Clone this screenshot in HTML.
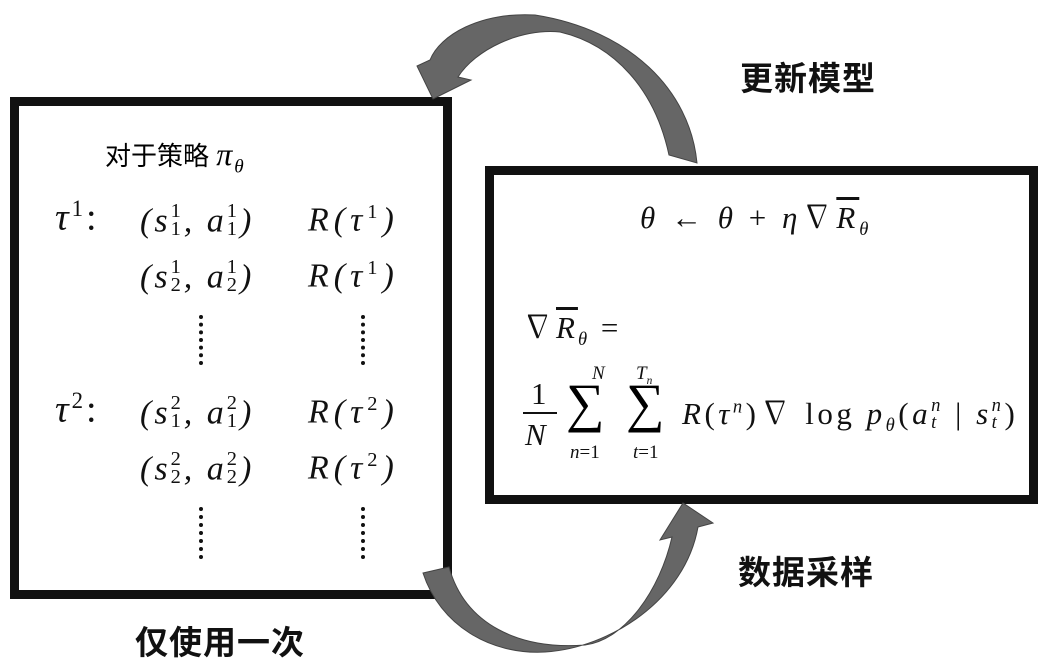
<!DOCTYPE html>
<html><head><meta charset="utf-8"><style>
body{margin:0;width:1042px;height:659px;background:#fff;position:relative;overflow:hidden;font-family:"Liberation Serif","Noto Serif CJK SC",serif;}
.a{position:absolute;white-space:nowrap;line-height:1;}
.m{font-style:italic;font-size:34px;color:#111;letter-spacing:3px;}
.cn{font-family:"Liberation Sans","Noto Sans CJK SC",sans-serif;font-weight:bold;font-size:33px;color:#111;letter-spacing:1px;}
.box{position:absolute;border:9px solid #111;box-sizing:border-box;}
sub,sup{font-size:60%;}
.dots{position:absolute;width:4px;border-left:4px dotted #111;}
.r{font-style:normal;}
.st{font-size:60%;display:inline-block;line-height:0.9;vertical-align:-4px;font-style:normal;}
</style></head><body>
<div class="box" style="left:10px;top:97px;width:442px;height:502px;"></div>
<div class="box" style="left:485px;top:166px;width:553px;height:338px;"></div>
<svg width="1042" height="659" style="position:absolute;left:0;top:0">
<path d="M697,163 C690,90 630,30 535,15 C480,12 440,35 430,60 L417,66 L433,99 L471,80 L458,77 C475,50 520,28 560,32 C615,45 655,90 669,155 Z" fill="#666" stroke="#444" stroke-width="1"/>
<path d="M423,573 C440,625 490,655 545,652 C610,648 685,600 698,527 L713,523 L683,503 L660,540 L672,537 C660,590 625,640 585,645 C520,650 465,625 449,567 Z" fill="#666" stroke="#444" stroke-width="1"/>
</svg>
<div class="a cn" style="left:740px;top:62px;">更新模型</div>
<div class="a cn" style="left:738px;top:556px;">数据采样</div>
<div class="a cn" style="left:135px;top:626px;">仅使用一次</div>
<div class="a" style="left:105px;top:138px;font-size:26px;font-family:'Liberation Sans','Noto Sans CJK SC',sans-serif;">对于策略 <i style="font-family:'Liberation Serif',serif;font-size:32px;letter-spacing:2px">π<sub>θ</sub></i></div>
<div class="a m" style="left:55px;top:198px;font-size:38px">τ<sup class="r">1</sup><span class="r">:</span></div>
<div class="a m" style="left:140px;top:202px">(s<span class="st">1<br>1</span>, a<span class="st">1<br>1</span>)</div>
<div class="a m" style="left:308px;top:202px;letter-spacing:5px">R(τ<sup class="r">1</sup>)</div>
<div class="a m" style="left:140px;top:258px">(s<span class="st">1<br>2</span>, a<span class="st">1<br>2</span>)</div>
<div class="a m" style="left:308px;top:258px;letter-spacing:5px">R(τ<sup class="r">1</sup>)</div>
<div class="dots" style="left:199px;top:315px;height:50px"></div>
<div class="dots" style="left:361px;top:315px;height:50px"></div>
<div class="a m" style="left:55px;top:390px;font-size:38px">τ<sup class="r">2</sup><span class="r">:</span></div>
<div class="a m" style="left:140px;top:394px">(s<span class="st">2<br>1</span>, a<span class="st">2<br>1</span>)</div>
<div class="a m" style="left:308px;top:394px;letter-spacing:5px">R(τ<sup class="r">2</sup>)</div>
<div class="a m" style="left:140px;top:450px">(s<span class="st">2<br>2</span>, a<span class="st">2<br>2</span>)</div>
<div class="a m" style="left:308px;top:450px;letter-spacing:5px">R(τ<sup class="r">2</sup>)</div>
<div class="dots" style="left:199px;top:507px;height:52px"></div>
<div class="dots" style="left:361px;top:507px;height:52px"></div>

<div class="a m" style="left:640px;top:202px;font-size:31px;letter-spacing:4px">θ <span class="r">←</span> θ <span class="r">+</span> η<span class="r">∇</span><span style="text-decoration:overline">R</span><sub>θ</sub></div>
<div class="a m" style="left:522px;top:312px;font-size:31px;letter-spacing:3px"><span class="r">∇</span><span style="text-decoration:overline">R</span><sub>θ</sub> <span class="r">=</span></div>
<div class="a m r" style="left:531px;top:378px;font-size:31px;font-style:normal">1</div>
<div style="position:absolute;left:523px;top:412px;width:34px;height:2px;background:#111"></div>
<div class="a m" style="left:525px;top:419px;font-size:31px">N</div>
<div class="a m" style="left:592px;top:364px;font-size:19px">N</div>
<div class="a r" style="left:566px;top:376px;font-size:54px">∑</div>
<div class="a m" style="left:570px;top:443px;font-size:19px;letter-spacing:0">n<span class="r">=1</span></div>
<div class="a m" style="left:636px;top:364px;font-size:19px;letter-spacing:0">T<sub>n</sub></div>
<div class="a r" style="left:626px;top:376px;font-size:54px">∑</div>
<div class="a m" style="left:633px;top:443px;font-size:19px;letter-spacing:0">t<span class="r">=1</span></div>
<div class="a m" style="left:682px;top:398px;font-size:31px;letter-spacing:3.5px">R<span class="r">(</span>τ<sup>n</sup><span class="r">)∇ log </span>p<sub>θ</sub><span class="r">(</span>a<span class="st" style="font-style:italic">n<br>t</span> <span class="r">|</span> s<span class="st" style="font-style:italic">n<br>t</span><span class="r">)</span></div>
</body></html>
